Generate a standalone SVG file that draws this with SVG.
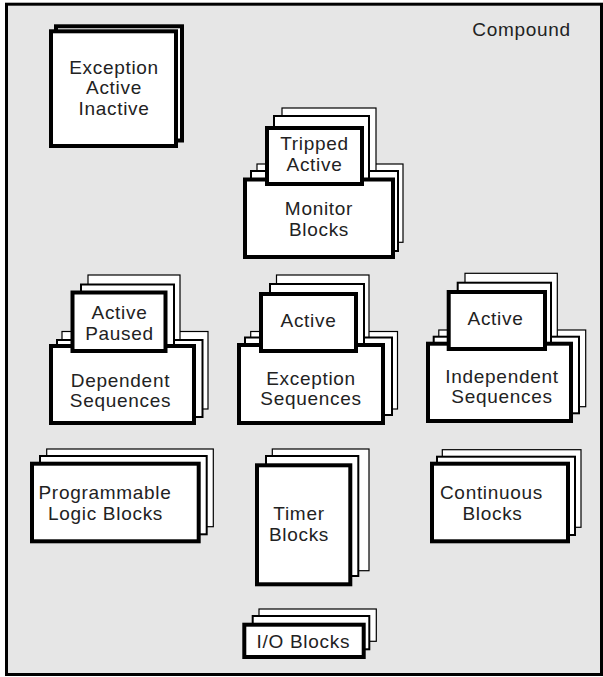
<svg xmlns="http://www.w3.org/2000/svg" width="603" height="677" viewBox="0 0 603 677">
<style>
.bg{fill:#e6e6e6;stroke:#000;stroke-width:3}
.b1{fill:#fff;stroke:#000;stroke-width:1.2}
.b2{fill:#fff;stroke:#000;stroke-width:2}
.b4{fill:#fff;stroke:#000;stroke-width:4}
.t{font-family:"Liberation Sans",Arial,Helvetica,sans-serif;font-size:19px;letter-spacing:0.7px;fill:#222;text-anchor:middle}
</style>
<rect class="bg" x="6.5" y="4.2" width="595" height="670.3"/>
<text class="t" x="521.5" y="36">Compound</text>

<g id="exception-state">
<rect class="b4" x="56" y="26.3" width="126" height="114.2"/>
<rect class="b4" x="51" y="31.3" width="125" height="114.7"/>
<text class="t" x="114" y="73.5">Exception</text>
<text class="t" x="114" y="94">Active</text>
<text class="t" x="114" y="114.5">Inactive</text>
</g>

<g id="monitor-blocks">
<rect class="b1" x="257" y="164" width="146" height="78.3"/>
<rect class="b1" x="282" y="108" width="94" height="70"/>
<rect class="b2" x="251" y="171" width="147" height="80"/>
<rect class="b2" x="274" y="116" width="95" height="70"/>
<rect class="b4" x="245" y="179.5" width="148" height="77.5"/>
<rect class="b4" x="267" y="128" width="95" height="56"/>
<text class="t" x="314.5" y="150">Tripped</text>
<text class="t" x="314.5" y="171">Active</text>
<text class="t" x="319" y="215">Monitor</text>
<text class="t" x="319" y="236">Blocks</text>
</g>

<g id="dependent-sequences">
<rect class="b1" x="62" y="331.5" width="146" height="77.5"/>
<rect class="b1" x="88" y="275" width="92" height="72"/>
<rect class="b2" x="57" y="340" width="145.5" height="77"/>
<rect class="b2" x="81" y="284.5" width="93" height="70"/>
<rect class="b4" x="51" y="346" width="143" height="77"/>
<rect class="b4" x="72.5" y="292.5" width="93" height="58.5"/>
<text class="t" x="119.5" y="318.8">Active</text>
<text class="t" x="119.5" y="339.5">Paused</text>
<text class="t" x="120.5" y="386.7">Dependent</text>
<text class="t" x="120.5" y="406.5">Sequences</text>
</g>

<g id="exception-sequences">
<rect class="b1" x="250.7" y="331.5" width="146.8" height="77.5"/>
<rect class="b1" x="276.5" y="275" width="92.5" height="70"/>
<rect class="b2" x="245" y="337.5" width="147" height="77.5"/>
<rect class="b2" x="270" y="284" width="94" height="69"/>
<rect class="b4" x="239" y="345" width="144" height="78"/>
<rect class="b4" x="261" y="294" width="95" height="57"/>
<text class="t" x="308.5" y="327.3">Active</text>
<text class="t" x="311" y="385">Exception</text>
<text class="t" x="311" y="405">Sequences</text>
</g>

<g id="independent-sequences">
<rect class="b1" x="438.8" y="330" width="146.9" height="76.7"/>
<rect class="b1" x="465" y="273.3" width="92.3" height="70"/>
<rect class="b2" x="433.7" y="336.7" width="145.3" height="76.6"/>
<rect class="b2" x="457.7" y="282.7" width="93.3" height="69"/>
<rect class="b4" x="428" y="343.7" width="143" height="77.3"/>
<rect class="b4" x="448.7" y="292" width="96.3" height="57"/>
<text class="t" x="495.5" y="325">Active</text>
<text class="t" x="502" y="383.3">Independent</text>
<text class="t" x="502" y="403.3">Sequences</text>
</g>

<g id="programmable-logic-blocks">
<rect class="b1" x="46.7" y="449" width="166.6" height="77.7"/>
<rect class="b2" x="40" y="456" width="166.7" height="78.3"/>
<rect class="b4" x="32" y="463.7" width="166.7" height="77.6"/>
<text class="t" x="105" y="499">Programmable</text>
<text class="t" x="105.5" y="520">Logic Blocks</text>
</g>

<g id="timer-blocks">
<rect class="b1" x="272.3" y="449" width="96.7" height="121.7"/>
<rect class="b2" x="266" y="456" width="92.3" height="120"/>
<rect class="b4" x="257" y="465.3" width="93.3" height="119"/>
<text class="t" x="299" y="520">Timer</text>
<text class="t" x="299" y="540.7">Blocks</text>
</g>

<g id="continuous-blocks">
<rect class="b1" x="442.3" y="449.7" width="138.7" height="77.6"/>
<rect class="b2" x="437" y="456.7" width="138" height="78.3"/>
<rect class="b4" x="432" y="463.7" width="136" height="77.6"/>
<text class="t" x="491.5" y="499.3">Continuous</text>
<text class="t" x="492.5" y="520">Blocks</text>
</g>

<g id="io-blocks">
<rect class="b1" x="259" y="609" width="117.3" height="32.3"/>
<rect class="b2" x="252.7" y="616" width="116.6" height="33.3"/>
<rect class="b4" x="244.3" y="624.7" width="119.4" height="32.3"/>
<text class="t" x="303.3" y="648.3">I/O Blocks</text>
</g>
</svg>
